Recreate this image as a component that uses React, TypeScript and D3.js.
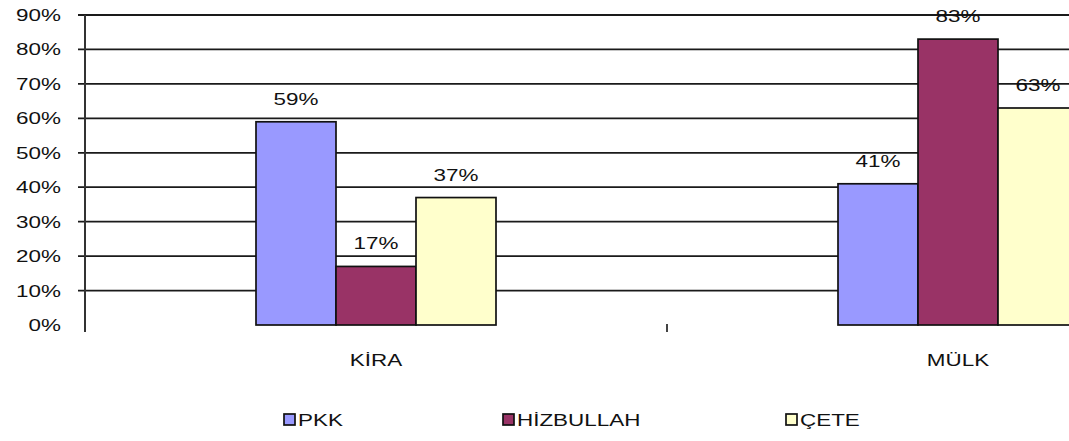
import { useEffect, useRef } from 'react';
import * as d3 from 'd3';

const CATEGORIES = ['KİRA', 'MÜLK'];
const SERIES = ['PKK', 'HİZBULLAH', 'ÇETE'];
const COLORS = ['#9999FF', '#993366', '#FFFFCC'];
// values per series, in category order
const PKK = [59, 41];
const HIZBULLAH = [17, 83];
const CETE = [37, 63];
const Y_TICKS = [0, 10, 20, 30, 40, 50, 60, 70, 80, 90];
const LEGEND_X = [284, 503, 786];

const W = 1069;
const H = 441;
const SX = 1.32; // the reference text is stretched sideways

export default function App() {
  const svgRef = useRef<SVGSVGElement | null>(null);

  useEffect(() => {
    const svg = d3.select(svgRef.current);
    svg.selectAll('*').remove();
    svg.attr('width', W).attr('height', H);

    const values = [PKK, HIZBULLAH, CETE];
    const rows = CATEGORIES.flatMap((c, ci) =>
      SERIES.map((s, si) => ({ cat: c, series: s, si, value: values[si][ci] })));

    const axisX = 85;
    const band = 582;
    const x = d3.scaleBand().domain(CATEGORIES).range([axisX, axisX + band * CATEGORIES.length]);
    const xs = d3.scaleBand().domain(SERIES).range([-120, 120]);
    const y = d3.scaleLinear().domain([0, 90]).range([325, 15]);

    const txt = (g: any, px: number, py: number, s: string, anchor = 'middle', size = 17) =>
      g.append('text')
        .attr('transform', `translate(${px},${py}) scale(${SX},1)`)
        .attr('text-anchor', anchor)
        .attr('font-family', '"Liberation Sans", Arial, sans-serif')
        .attr('font-size', size)
        .attr('fill', '#111')
        .text(s);

    // gridlines + y labels
    Y_TICKS.forEach(t => {
      if (t > 0) {
        svg.append('line')
          .attr('x1', axisX - 7).attr('x2', W)
          .attr('y1', y(t)).attr('y2', y(t))
          .attr('stroke', '#1a1a1a').attr('stroke-width', 1.8);
      }
      txt(svg, 61, y(t) + 6, `${t}%`, 'end');
    });

    // bars
    svg.append('g').selectAll('rect').data(rows).join('rect')
      .attr('x', d => x(d.cat)! + band / 2 + xs(d.series)!)
      .attr('y', d => y(d.value))
      .attr('width', xs.bandwidth())
      .attr('height', d => y(0) - y(d.value))
      .attr('fill', d => COLORS[d.si])
      .attr('stroke', '#111').attr('stroke-width', 1.7);

    // value labels
    rows.forEach(d => {
      txt(svg, x(d.cat)! + band / 2 + xs(d.series)! + xs.bandwidth() / 2, y(d.value) - 17, `${d.value}%`);
    });

    // y axis + category ticks
    svg.append('line')
      .attr('x1', axisX).attr('x2', axisX).attr('y1', y(90)).attr('y2', 332)
      .attr('stroke', '#333').attr('stroke-width', 2);
    CATEGORIES.slice(1).forEach(c => {
      svg.append('line')
        .attr('x1', x(c)!).attr('x2', x(c)!).attr('y1', 324).attr('y2', 332)
        .attr('stroke', '#444').attr('stroke-width', 2);
    });

    // category labels
    CATEGORIES.forEach(c => txt(svg, x(c)! + band / 2, 366, c));

    // legend
    SERIES.forEach((s, i) => {
      svg.append('rect')
        .attr('x', LEGEND_X[i]).attr('y', 414).attr('width', 11).attr('height', 11)
        .attr('fill', COLORS[i]).attr('stroke', '#111').attr('stroke-width', 1.7);
      txt(svg, LEGEND_X[i] + 14, 426, s, 'start');
    });
  }, []);

  return (
    <div style={{ position: 'fixed', left: 0, top: 0, background: '#fff' }}>
      <svg ref={svgRef} style={{ display: 'block' }} />
    </div>
  );
}
